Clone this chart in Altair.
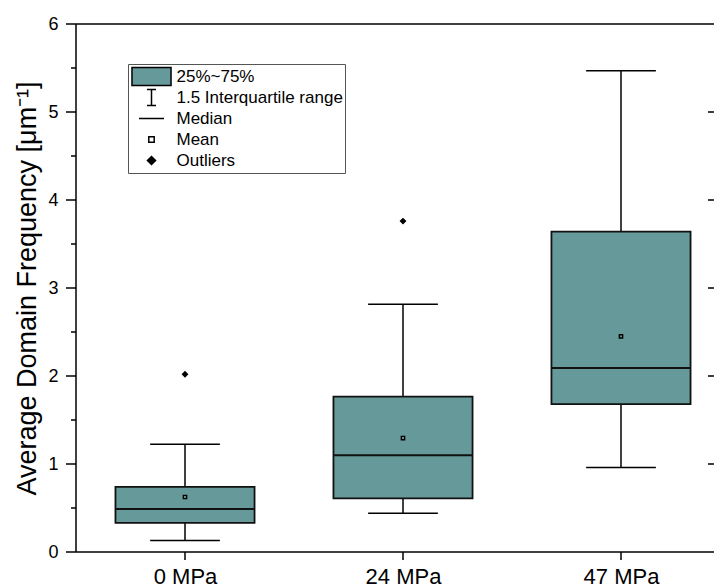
import json
import altair as alt
import pandas as pd

# ---------------- data ----------------
categories = ["0 MPa", "24 MPa", "47 MPa"]
q1 = [0.33, 0.61, 1.68]
q3 = [0.74, 1.765, 3.64]
median = [0.49, 1.10, 2.09]
mean = [0.625, 1.295, 2.45]
whisker_low = [0.13, 0.44, 0.96]
whisker_high = [1.225, 2.815, 5.47]
outlier_cat = ["0 MPa", "24 MPa"]
outlier_val = [2.02, 3.76]

legend_labels = ["25%~75%", "1.5 Interquartile range", "Median", "Mean", "Outliers"]
y_major = [0, 1, 2, 3, 4, 5, 6]
y_minor = [0.5, 1.5, 2.5, 3.5, 4.5, 5.5]
y_right = [1, 2, 3, 4, 5]
y_title = "Average Domain Frequency [\u03bcm\u207b\u00b9]"

# ---------------- style ----------------
FONT = "Liberation Sans"
TEAL = "#669999"
PLOT_W, PLOT_H = 638, 528
STEP = 218.0
BOX_HALF = 0.319
CAP_HALF = 0.16

legend_paths = [
    "M-2.17,-1H2.17V1H-2.17Z",                       # box swatch
    "M-0.5,-0.89H0.5M0,-0.89V0.89M-0.5,0.89H0.5",    # whisker I-bar
    "M-1.39,0H1.39",                                 # median line
    "M-0.3,-0.3H0.3V0.3H-0.3Z",                      # mean square
    "M0,-0.45L0.45,0L0,0.45L-0.45,0Z",               # outlier diamond
]
legend_fills = [TEAL, "transparent", "transparent", "transparent", "black"]

idx = list(range(1, len(categories) + 1))
box_df = pd.DataFrame({
    "cat": categories, "idx": idx, "q1": q1, "q3": q3, "median": median,
    "lo": whisker_low, "hi": whisker_high,
})
pts_df = pd.concat([
    pd.DataFrame({"idx": idx, "value": mean, "part": "Mean"}),
    pd.DataFrame({"idx": [categories.index(c) + 1 for c in outlier_cat],
                  "value": outlier_val, "part": "Outliers"}),
], ignore_index=True)

xs = alt.Scale(domain=[0.5, 0.5 + PLOT_W / STEP], nice=False, zero=False)
ys = alt.Scale(domain=[0, 6], nice=False, zero=False)

label_expr = json.dumps(categories) + "[datum.value - 1]"

# whiskers carry the (label/title) axes
whiskers = alt.Chart(box_df).mark_rule(color="black", strokeWidth=1.5).encode(
    x=alt.X("idx:Q", scale=xs, axis=alt.Axis(
        values=idx, labelExpr=label_expr, tickSize=8, tickOpacity=0,
        domain=False, labelFontSize=22, labelPadding=6, grid=False, title=None)),
    y=alt.Y("lo:Q", scale=ys, axis=alt.Axis(
        values=y_major, format="d", tickSize=10, tickOpacity=0, domain=False,
        labelFontSize=18, labelPadding=8, grid=False, title=y_title,
        titleFontSize=27, titleFontWeight="normal", titlePadding=6)),
    y2="hi:Q",
)

caps = alt.Chart(box_df).transform_fold(["lo", "hi"], as_=["end", "v"]).transform_calculate(
    cl=f"datum.idx - {CAP_HALF}", cr=f"datum.idx + {CAP_HALF}"
).mark_rule(color="black", strokeWidth=1.5).encode(
    x=alt.X("cl:Q", scale=xs), x2="cr:Q",
    y=alt.Y("v:Q", scale=ys),
)

boxes = alt.Chart(box_df).transform_calculate(
    bl=f"datum.idx - {BOX_HALF}", br=f"datum.idx + {BOX_HALF}"
).mark_rect(fill=TEAL, stroke="#111111", strokeWidth=1.8).encode(
    x=alt.X("bl:Q", scale=xs), x2="br:Q",
    y=alt.Y("q1:Q", scale=ys), y2="q3:Q",
)

medians = alt.Chart(box_df).transform_calculate(
    bl=f"datum.idx - {BOX_HALF}", br=f"datum.idx + {BOX_HALF}"
).mark_rule(color="#111111", strokeWidth=2).encode(
    x=alt.X("bl:Q", scale=xs), x2="br:Q",
    y=alt.Y("median:Q", scale=ys),
)

# tick marks (drawn from the tick value lists through the scales)
tick_style = dict(color="black", strokeWidth=1.5)
y_major_ticks = alt.Chart(pd.DataFrame({"t": y_major})).mark_rule(**tick_style).encode(
    y=alt.Y("t:Q", scale=ys), x=alt.value(-10), x2=alt.value(0))
y_minor_ticks = alt.Chart(pd.DataFrame({"t": y_minor})).mark_rule(**tick_style).encode(
    y=alt.Y("t:Q", scale=ys), x=alt.value(-5), x2=alt.value(0))
y_right_ticks = alt.Chart(pd.DataFrame({"t": y_right})).mark_rule(**tick_style).encode(
    y=alt.Y("t:Q", scale=ys), x=alt.value(PLOT_W - 6), x2=alt.value(PLOT_W))
x_ticks = alt.Chart(pd.DataFrame({"t": idx})).mark_rule(**tick_style).encode(
    x=alt.X("t:Q", scale=xs), y=alt.value(PLOT_H), y2=alt.value(PLOT_H + 8))

# frame: left, top and bottom (the right edge lies outside the picture)
frame_src = alt.Chart(pd.DataFrame({"k": [0]}))
frame_style = dict(color="black", strokeWidth=1.5)
frame_left = frame_src.mark_rule(**frame_style).encode(
    x=alt.value(0), y=alt.value(0), y2=alt.value(PLOT_H))
frame_top = frame_src.mark_rule(**frame_style).encode(
    x=alt.value(0), x2=alt.value(PLOT_W + 2), y=alt.value(0))
frame_bottom = frame_src.mark_rule(**frame_style).encode(
    x=alt.value(0), x2=alt.value(PLOT_W + 2), y=alt.value(PLOT_H))

legend_kw = dict(
    title=None, orient="none", legendX=52, legendY=40, padding=2,
    rowPadding=0, clipHeight=21, symbolOffset=11.5, labelOffset=15,
    symbolSize=324, symbolOpacity=1, labelFont=FONT, labelFontSize=17,
    labelColor="black", strokeColor="#555555", fillColor="white",
    labelLimit=400,
)

points = alt.Chart(pts_df).mark_point(
    filled=True, stroke="black", strokeWidth=1.4, size=120, opacity=1
).encode(
    x=alt.X("idx:Q", scale=xs),
    y=alt.Y("value:Q", scale=ys),
    shape=alt.Shape("part:N", scale=alt.Scale(domain=legend_labels, range=legend_paths),
                    legend=alt.Legend(**legend_kw)),
    fill=alt.Fill("part:N", scale=alt.Scale(domain=legend_labels, range=legend_fills),
                  legend=alt.Legend(**legend_kw)),
)

chart = alt.layer(
    whiskers, caps, boxes, medians,
    y_major_ticks, y_minor_ticks, y_right_ticks, x_ticks,
    frame_left, frame_top, frame_bottom, points,
).properties(
    width=PLOT_W, height=PLOT_H,
    autosize=alt.AutoSizeParams(type="none"),
    padding={"left": 68, "top": 16, "right": 0, "bottom": 36},
    background="white",
).configure_view(
    stroke=None
).configure_axis(
    labelColor="black", labelFont=FONT, titleFont=FONT, titleColor="black",
)

chart.save("out.html", embed_options={"renderer": "svg", "actions": False})
